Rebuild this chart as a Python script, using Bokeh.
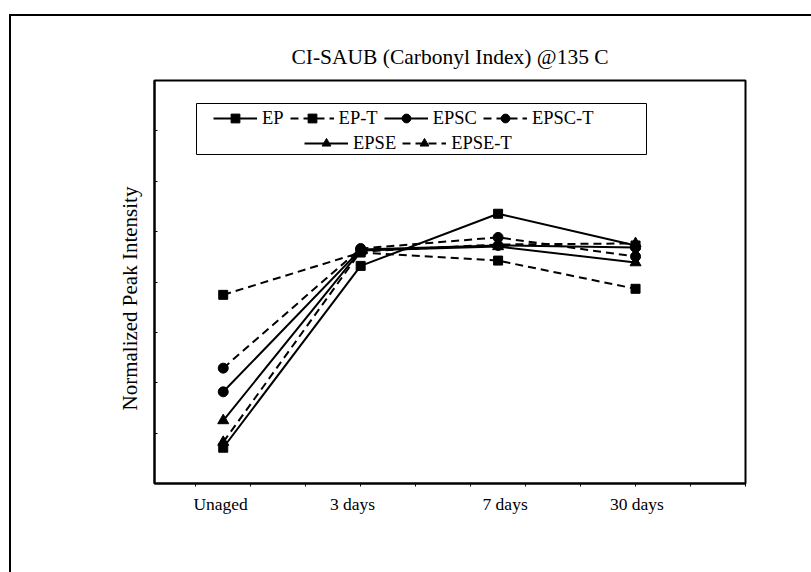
from bokeh.plotting import figure
from bokeh.models import (Range1d, FixedTicker, Legend, LegendItem, LinearAxis,
                          BoxAnnotation, CustomJSTickFormatter, InlineStyleSheet, Title)
from bokeh.embed import file_html
from bokeh.resources import INLINE

# ---- data ----
categories = ["Unaged", "3 days", "7 days", "30 days"]
x_pos = [1.5, 4.0, 6.5, 9.0]
ep = [0.142, 0.864, 1.071, 0.945]
ep_t = [0.749, 0.917, 0.885, 0.773]
epsc = [0.364, 0.929, 0.945, 0.937]
epsc_t = [0.458, 0.933, 0.977, 0.901]
epse = [0.250, 0.925, 0.941, 0.877]
epse_t = [0.164, 0.921, 0.949, 0.953]
series_names = ["EP", "EP-T", "EPSC", "EPSC-T", "EPSE", "EPSE-T"]
title_text = "CI-SAUB (Carbonyl Index) @135 C"
y_label = "Normalized Peak Intensity"
x_ticks = [1, 2, 3, 4, 5, 6, 7, 8, 9, 10, 11]
y_ticks = [0, 0.2, 0.4, 0.6, 0.8, 1.0, 1.2, 1.4, 1.6]
cat_label_x = [1.453, 3.853, 6.627, 9.024]

FONT = "Liberation Serif"

p = figure(output_backend="svg", toolbar_location=None,
           x_range=Range1d(0.25, 11.0), y_range=Range1d(0, 1.6),
           frame_width=591, frame_height=403,
           min_border_left=154, min_border_right=58,
           min_border_top=80, min_border_bottom=81)
p.background_fill_color = "white"
p.border_fill_color = "white"
p.outline_line_color = "black"
p.outline_line_width = 2
p.grid.visible = False

p.title.text = title_text
p.title.align = "center"
p.title.text_font = FONT
p.title.text_font_size = "21.5px"
p.title.text_font_style = "normal"
p.title.text_color = "black"
p.title.standoff = 23

blank = CustomJSTickFormatter(code="return ''")
for ax in (p.xaxis[0], p.yaxis[0]):
    ax.axis_line_color = "black"
    ax.axis_line_width = 2
    ax.major_tick_line_color = "black"
    ax.major_tick_line_width = 1
    ax.minor_tick_line_color = None
    ax.formatter = blank
    ax.major_label_text_font_size = "1px"
    ax.major_label_standoff = 0
p.xaxis[0].ticker = FixedTicker(ticks=x_ticks)
p.xaxis[0].major_tick_in = 0
p.xaxis[0].major_tick_out = 3
p.yaxis[0].ticker = FixedTicker(ticks=y_ticks)
p.yaxis[0].major_tick_in = 3
p.yaxis[0].major_tick_out = 0

# vertical axis title, placed slightly below the frame's middle as in the original
p.add_layout(Title(text=y_label, align="left", offset=73,
                   text_font=FONT, text_font_size="21px",
                   text_font_style="normal", text_color="black",
                   standoff=26), "left")

cat_axis = LinearAxis(ticker=FixedTicker(ticks=cat_label_x),
                      major_label_overrides=dict(zip(cat_label_x, categories)),
                      axis_line_color=None, major_tick_line_color=None,
                      minor_tick_line_color=None,
                      major_label_text_font=FONT,
                      major_label_text_font_size="17.5px",
                      major_label_text_color="black",
                      major_label_standoff=1)
p.add_layout(cat_axis, "below")

styles = [
    ("solid", "square", 9),
    ("8 5", "square", 9),
    ("solid", "circle", 10),
    ("8 5", "circle", 10),
    ("solid", "triangle", 11),
    ("8 5", "triangle", 11),
]
values = [ep, ep_t, epsc, epsc_t, epse, epse_t]
items = []
for name, vals, (dash, marker, size) in zip(series_names, values, styles):
    l = p.line(x_pos, vals, line_color="black", line_width=2, line_dash=dash)
    s = p.scatter(x_pos, vals, marker=marker, size=size,
                  fill_color="black", line_color="black")
    items.append(LegendItem(label=name, renderers=[l, s]))

def make_legend(its, loc):
    leg = Legend(items=its, orientation="horizontal", location=loc)
    leg.border_line_color = None
    leg.background_fill_alpha = 0
    leg.padding = 0
    leg.margin = 0
    leg.spacing = 6
    leg.glyph_width = 44
    leg.glyph_height = 22
    leg.label_height = 22
    leg.label_standoff = 5
    leg.label_text_font = FONT
    leg.label_text_font_size = "18.5px"
    leg.label_text_color = "black"
    return leg

p.add_layout(make_legend(items[:4], (59, 353.7)))
p.add_layout(make_legend(items[4:], (150, 328.7)))

# legend frame
p.add_layout(BoxAnnotation(left=42, right=492, top=380, bottom=329,
                           left_units="screen", right_units="screen",
                           top_units="screen", bottom_units="screen",
                           fill_alpha=0, line_color="black", line_width=1,
                           line_alpha=1))

# chart-area border (only its left and top edges fall inside the window)
p.stylesheets = [InlineStyleSheet(css="""
:host { position: relative; }
:host::after { content: ""; position: absolute; left: 9px; top: 14px;
  right: -20px; bottom: -20px; border-left: 2px solid black; border-top: 2px solid black;
  pointer-events: none; z-index: 10; }
""")]

open("out.html", "w").write(file_html(p, INLINE))
